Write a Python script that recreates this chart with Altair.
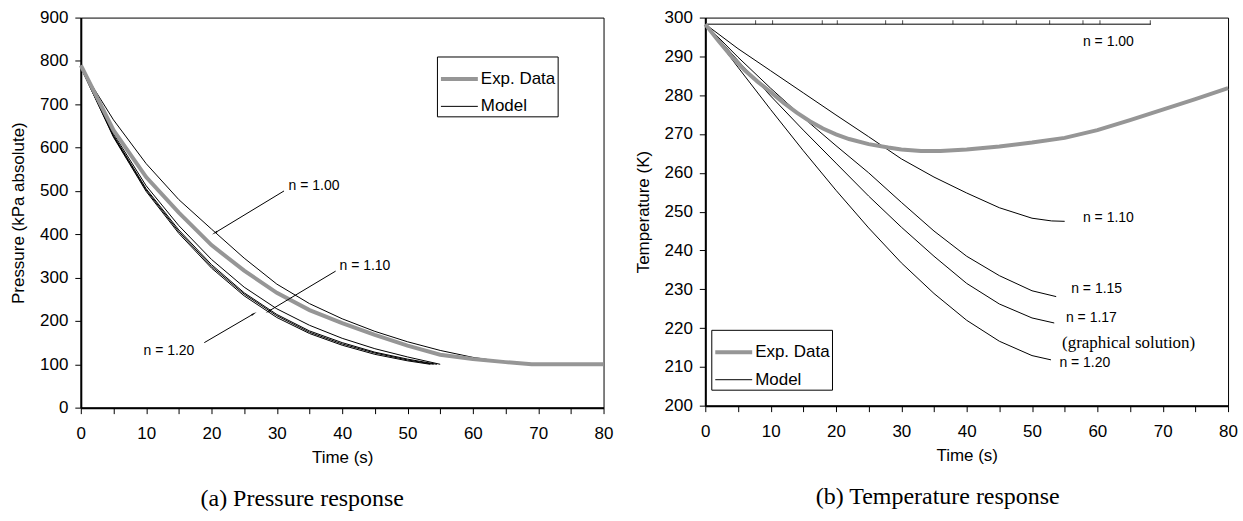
import math
import altair as alt
import pandas as pd

# ---------------- (a) Pressure response ----------------
p_exp_t = [0, 5, 10, 15, 20, 25, 30, 35, 40, 45, 50, 55, 60, 65, 69, 80]
p_exp_v = [790, 640, 532, 450, 375, 316, 265, 225, 195, 168, 143, 122, 112, 105, 100, 100]

p_n100_t = [0, 5, 10, 15, 20, 25, 30, 35, 40, 45, 50, 55, 60, 65, 68]
p_n100_v = [785, 664, 563, 480, 412, 345, 285, 240, 205, 176, 152, 132, 116, 105, 100]

p_n110_t = [0, 5, 10, 15, 20, 25, 30, 35, 40, 45, 50, 55]
p_n110_v = [785, 632, 512, 420, 342, 278, 228, 190, 160, 136, 117, 100]

p_n115_t = [0, 5, 10, 15, 20, 25, 30, 35, 40, 45, 50, 54.5]
p_n115_v = [785, 628, 505, 410, 330, 265, 215, 177, 150, 128, 112, 100]

p_n117_t = [0, 5, 10, 15, 20, 25, 30, 35, 40, 45, 50, 54]
p_n117_v = [785, 626, 502, 406, 326, 262, 212, 174, 147, 126, 110, 100]

p_n120_t = [0, 5, 10, 15, 20, 25, 30, 35, 40, 45, 50, 53.5]
p_n120_v = [785, 624, 499, 402, 322, 258, 208, 171, 144, 123, 108, 100]

# annotations (label position, arrow start, arrow tip) in data units
p_lab_text = ["n = 1.00", "n = 1.10", "n = 1.20"]
p_lab_t = [31.8, 39.6, 9.6]
p_lab_v = [511, 327, 131]
p_arr_t1 = [31.1, 39.0, 18.9]
p_arr_v1 = [500, 315, 150]
p_arr_t2 = [20.6, 28.8, 26.4]
p_arr_v2 = [404, 223, 216]

# ---------------- (b) Temperature response ----------------
t_exp_t = [0, 2, 4, 6, 8, 10, 12, 14, 16, 18, 20, 22, 25, 28, 30, 33, 36, 40, 45, 50, 55, 60, 65, 70, 75, 80]
t_exp_v = [298.3, 294.0, 290.0, 286.5, 283.5, 280.8, 278.0, 275.5, 273.3, 271.4, 269.9, 268.7, 267.4,
           266.5, 266.0, 265.6, 265.6, 266.0, 266.8, 267.8, 269.0, 271.0, 273.6, 276.3, 279.0, 281.8]

t_n100_t = [0, 68.2]
t_n100_v = [298.3, 298.3]
t_n100_marks = [7.7, 10.3, 17.9, 20.2, 27.6, 30.2, 37.9, 42.5, 47.6, 52.7, 57.8, 60.4, 68.1]

t_n110_t = [0, 5, 10, 15, 20, 25, 30, 35, 40, 45, 50, 53, 55]
t_n110_v = [298.3, 292.0, 286.3, 280.6, 274.9, 269.3, 263.6, 258.9, 254.8, 251.0, 248.3, 247.6, 247.5]

t_n115_t = [0, 5, 10, 15, 20, 25, 30, 35, 40, 45, 50, 53.7]
t_n115_v = [298.3, 289.8, 281.8, 274.2, 267.0, 260.0, 252.4, 245.0, 238.5, 233.5, 229.6, 228.1]

t_n117_t = [0, 5, 10, 15, 20, 25, 30, 35, 40, 45, 50, 53.4]
t_n117_v = [298.3, 288.9, 279.8, 271.0, 262.5, 254.0, 246.0, 238.5, 231.5, 226.2, 222.6, 221.3]

t_n120_t = [0, 5, 10, 15, 20, 25, 30, 35, 40, 45, 50, 52.9]
t_n120_v = [298.3, 287.2, 276.3, 265.7, 255.5, 245.8, 236.8, 228.9, 222.0, 216.6, 212.9, 211.8]

t_lab_text = ["n = 1.00", "n = 1.10", "n = 1.15", "n = 1.17", "n = 1.20"]
t_lab_t = [57.8, 57.8, 56.0, 55.2, 54.2]
t_lab_v = [293.8, 248.3, 230.0, 222.5, 210.9]
t_note_text = ["(graphical solution)"]
t_note_t = [54.6]
t_note_v = [216.2]

SANS = "Liberation Sans"
SERIF = "Liberation Serif"
GRAY = "#969696"

X_TICKS = list(range(0, 81, 5))


def enc_x(field):
    return alt.X(field, scale=alt.Scale(domain=[0, 80], nice=False),
                 axis=alt.Axis(values=X_TICKS, labelExpr="datum.value % 10 == 0 ? datum.label : ''",
                               title="Time (s)", labelOverlap=False))


def enc_y(field, ydomain, yvalues, ytitle):
    return alt.Y(field, scale=alt.Scale(domain=ydomain, nice=False, zero=False),
                 axis=alt.Axis(values=yvalues, title=ytitle, labelOverlap=False))


def frame(curves):
    rows = []
    for name, kind, ts, vs in curves:
        for t, v in zip(ts, vs):
            rows.append({"curve": name, "kind": kind, "t": t, "v": v})
    return pd.DataFrame(rows)


def lines_layer(df, ey, legend_x, legend_y):
    leg = alt.Legend(title=None, orient="none", legendX=legend_x, legendY=legend_y,
                     symbolType="stroke", symbolSize=1369, labelFont=SANS, labelFontSize=17,
                     labelColor="black", labelOffset=1, strokeColor="black", fillColor="white",
                     padding=2, rowPadding=-9, cornerRadius=0, labelLimit=200)
    return alt.Chart(df).mark_line(strokeCap="butt").encode(
        x=enc_x("t:Q"),
        y=ey,
        color=alt.Color("kind:N", scale=alt.Scale(domain=["Exp. Data", "Model"], range=[GRAY, "black"]),
                        legend=leg),
        strokeWidth=alt.StrokeWidth("kind:N", scale=alt.Scale(domain=["Exp. Data", "Model"], range=[4, 1]),
                                    legend=leg),
        detail="curve:N",
        order="t:Q",
    )


# ---- left chart ----
p_df = frame([
    ("n = 1.00", "Model", p_n100_t, p_n100_v),
    ("n = 1.10", "Model", p_n110_t, p_n110_v),
    ("n = 1.15", "Model", p_n115_t, p_n115_v),
    ("n = 1.17", "Model", p_n117_t, p_n117_v),
    ("n = 1.20", "Model", p_n120_t, p_n120_v),
    ("exp", "Exp. Data", p_exp_t, p_exp_v),
])

LW, LH = 524, 391
px_t = LW / 80.0
px_p = LH / 900.0
arr_df = pd.DataFrame({"t1": p_arr_t1, "v1": p_arr_v1, "t2": p_arr_t2, "v2": p_arr_v2})
arr_df["ang"] = [
    (math.degrees(math.atan2((b - a) * px_t, (d - c) * px_p)) + 360) % 360
    for a, b, c, d in zip(p_arr_t1, p_arr_t2, p_arr_v1, p_arr_v2)
]
p_lab_df = pd.DataFrame({"text": p_lab_text, "t": p_lab_t, "v": p_lab_v})

P_DOM = [0, 900]
P_VALS = list(range(0, 901, 100))
P_TITLE = "Pressure (kPa absolute)"

p_lines = lines_layer(p_df, enc_y("v:Q", P_DOM, P_VALS, P_TITLE), 357, 39)
p_arrows = alt.Chart(arr_df).mark_rule(color="black", strokeWidth=1).encode(
    x=enc_x("t1:Q"), y=enc_y("v1:Q", P_DOM, P_VALS, P_TITLE), x2="t2:Q", y2="v2:Q")
p_heads = alt.Chart(arr_df).mark_point(shape="wedge", filled=True, color="black", size=45, opacity=1).encode(
    x=enc_x("t2:Q"), y=enc_y("v2:Q", P_DOM, P_VALS, P_TITLE), angle=alt.Angle("ang:Q", scale=None))
p_text = alt.Chart(p_lab_df).mark_text(align="left", baseline="middle", font=SANS, fontSize=14,
                                       color="black").encode(
    x=enc_x("t:Q"), y=enc_y("v:Q", P_DOM, P_VALS, P_TITLE), text="text:N")

left = alt.layer(p_lines, p_arrows, p_heads, p_text).properties(
    width=LW, height=LH,
    title=alt.TitleParams("(a) Pressure response", orient="bottom", anchor="middle", font=SERIF,
                          fontSize=24, fontWeight="normal", color="black", offset=22, dx=-40),
)

# ---- right chart ----
t_df = frame([
    ("n = 1.00", "Model", t_n100_t, t_n100_v),
    ("n = 1.10", "Model", t_n110_t, t_n110_v),
    ("n = 1.15", "Model", t_n115_t, t_n115_v),
    ("n = 1.17", "Model", t_n117_t, t_n117_v),
    ("n = 1.20", "Model", t_n120_t, t_n120_v),
    ("exp", "Exp. Data", t_exp_t, t_exp_v),
])
t_marks_df = pd.DataFrame({"t": t_n100_marks, "v": [t_n100_v[0]] * len(t_n100_marks)})
t_lab_df = pd.DataFrame({"text": t_lab_text, "t": t_lab_t, "v": t_lab_v})
t_note_df = pd.DataFrame({"text": t_note_text, "t": t_note_t, "v": t_note_v})

T_DOM = [200, 300]
T_VALS = list(range(200, 301, 10))
T_TITLE = "Temperature (K)"

t_lines = lines_layer(t_df, enc_y("v:Q", T_DOM, T_VALS, T_TITLE), 6, 313)
t_ticks = alt.Chart(t_marks_df).mark_tick(orient="vertical", color="black", size=4, thickness=1,
                                          yOffset=-2).encode(
    x=enc_x("t:Q"), y=enc_y("v:Q", T_DOM, T_VALS, T_TITLE))
t_text = alt.Chart(t_lab_df).mark_text(align="left", baseline="middle", font=SANS, fontSize=14,
                                       color="black").encode(
    x=enc_x("t:Q"), y=enc_y("v:Q", T_DOM, T_VALS, T_TITLE), text="text:N")
t_note = alt.Chart(t_note_df).mark_text(align="left", baseline="middle", font=SERIF, fontSize=17,
                                        color="black").encode(
    x=enc_x("t:Q"), y=enc_y("v:Q", T_DOM, T_VALS, T_TITLE), text="text:N")

right = alt.layer(t_lines, t_ticks, t_text, t_note).properties(
    width=524, height=389,
    title=alt.TitleParams("(b) Temperature response", orient="bottom", anchor="middle", font=SERIF,
                          fontSize=24, fontWeight="normal", color="black", offset=22, dx=-29),
)

chart = alt.hconcat(left, right, spacing=20).resolve_scale(
    color="independent", strokeWidth="independent"
).properties(
    padding={"left": 9, "top": 7, "right": 5, "bottom": 5},
    background="white",
).configure_view(
    stroke="black", strokeWidth=1
).configure_axis(
    grid=False, domainColor="black", domainWidth=2, tickColor="black", tickWidth=1, tickSize=6,
    labelFont=SANS, labelFontSize=17, labelColor="black", labelPadding=7,
    titleFont=SANS, titleFontSize=17, titleFontWeight="normal", titleColor="black",
).configure_axisX(
    labelPadding=12, titlePadding=8, labelFlush=False
).configure_axisY(
    titlePadding=12
)

chart.save("out.html", embed_options={"renderer": "svg", "actions": False})
